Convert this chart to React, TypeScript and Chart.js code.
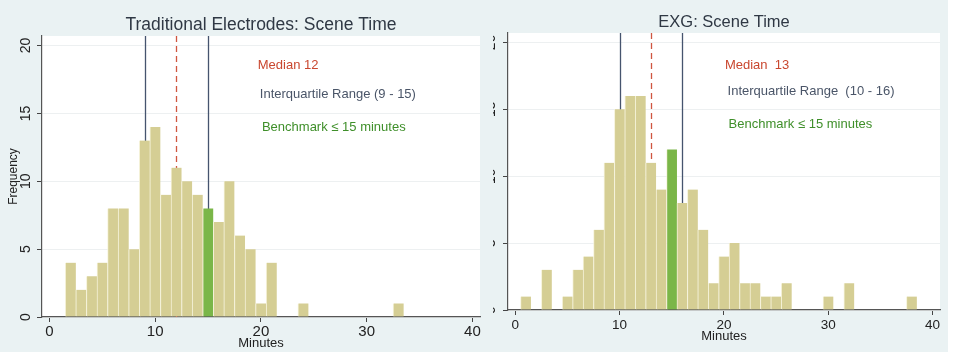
import React, { useEffect, useRef } from "react";
import { Chart, registerables } from "chart.js";

Chart.register(...registerables);

// ---- data ----
const leftBins = [2, 3, 4, 5, 6, 7, 8, 9, 10, 11, 12, 13, 14, 15, 16, 17, 18, 19, 20, 21, 24, 33];
const leftCounts = [4, 2, 3, 4, 8, 8, 5, 13, 14, 9, 11, 10, 9, 8, 7, 10, 6, 5, 1, 4, 1, 1];
const rightBins = [1, 3, 5, 6, 7, 8, 9, 10, 11, 12, 13, 14, 15, 16, 17, 18, 19, 20, 21, 22, 23, 24, 25, 26, 30, 32, 38];
const rightCounts = [1, 3, 1, 3, 4, 6, 11, 15, 16, 16, 11, 9, 12, 8, 9, 6, 2, 4, 5, 2, 2, 1, 1, 2, 1, 2, 1];
const xTicks = [0, 10, 20, 30, 40];
const yTicks = [0, 5, 10, 15, 20];
const benchmark = 15;
const leftMedian = 12;
const leftIQR = [9, 15];
const rightMedian = 13;
const rightIQR = [10, 16];
const leftTitle = "Traditional Electrodes: Scene Time";
const rightTitle = "EXG: Scene Time";
const leftNotes = ["Median 12", "Interquartile Range (9 - 15)", "Benchmark \u2264 15 minutes"];
const rightNotes = ["Median  13", "Interquartile Range  (10 - 16)", "Benchmark \u2264 15 minutes"];
const xTitle = "Minutes";
const yTitle = "Frequency";

// ---- styles / layout ----
const FONT = '"Liberation Sans", Arial, sans-serif';
const PANEL_BG = "#eaf2f3";
const BAR = "#d5ce94";
const GREEN = "#7ab648";
const IQR_COLOR = "#46546e";
const MED_COLOR = "#cf5540";
const NOTE_COLORS = ["#c9472f", "#4a5568", "#3f8f2a"];
const AXIS = "#555";

type PanelCfg = {
  left: number; w: number; h: number; padTop: number; padRight: number;
  yAxisW: number; xAxisH: number; bins: number[]; counts: number[];
  median: number; iqr: number[]; title: string; titleY: number; titleSize: number;
  notes: string[]; notePos: number[][]; yLabelX: number; showYTitle: boolean;
  tickSize: number; tickPad: number; xTitleY: number; noteSize: number;
};

const leftPanel: PanelCfg = {
  left: 0, w: 493, h: 352, padTop: 36, padRight: 13, yAxisW: 42, xAxisH: 35,
  bins: leftBins, counts: leftCounts, median: leftMedian, iqr: leftIQR,
  title: leftTitle, titleY: 25, titleSize: 17.5, notes: leftNotes,
  notePos: [[19.7, 18.5], [19.9, 16.4], [20.1, 14.0]], yLabelX: 26, showYTitle: true,
  tickSize: 15, tickPad: 1, xTitleY: 343, noteSize: 13,
};

const rightPanel: PanelCfg = {
  left: 493, w: 455, h: 352, padTop: 33, padRight: 8, yAxisW: 15, xAxisH: 42,
  bins: rightBins, counts: rightCounts, median: rightMedian, iqr: rightIQR,
  title: rightTitle, titleY: 22, titleSize: 16.5, notes: rightNotes,
  notePos: [[20.1, 18.25], [20.35, 16.3], [20.45, 13.9]], yLabelX: -1.5, showYTitle: false,
  tickSize: 13.5, tickPad: 2, xTitleY: 336, noteSize: 13,
};

function makeDecor(cfg: PanelCfg) {
  return {
    id: "decor",
    beforeDraw(chart: any) {
      const { ctx, chartArea: ca } = chart;
      ctx.save();
      ctx.fillStyle = "#ffffff";
      ctx.fillRect(ca.left, ca.top, ca.right - ca.left, ca.bottom - ca.top);
      ctx.restore();
    },
    beforeDatasetsDraw(chart: any) {
      const { ctx, chartArea: ca, scales } = chart;
      const x = scales.x;
      ctx.save();
      ctx.lineWidth = 1.3;
      ctx.strokeStyle = IQR_COLOR;
      for (const v of cfg.iqr) {
        const px = Math.round(x.getPixelForValue(v)) + 0.5;
        ctx.beginPath();
        ctx.moveTo(px, ca.top);
        ctx.lineTo(px, ca.bottom);
        ctx.stroke();
      }
      ctx.strokeStyle = MED_COLOR;
      ctx.setLineDash([6, 4]);
      const pm = Math.round(x.getPixelForValue(cfg.median)) + 0.5;
      ctx.beginPath();
      ctx.moveTo(pm, ca.top);
      ctx.lineTo(pm, ca.bottom);
      ctx.stroke();
      ctx.restore();
    },
    afterDraw(chart: any) {
      const { ctx, chartArea: ca, scales } = chart;
      const x = scales.x;
      const y = scales.y;
      ctx.save();
      // title
      ctx.fillStyle = "#2f3844";
      ctx.font = `${cfg.titleSize}px ${FONT}`;
      ctx.textAlign = "center";
      ctx.textBaseline = "middle";
      ctx.fillText(cfg.title, (ca.left + ca.right) / 2, cfg.titleY);
      // notes
      ctx.textAlign = "left";
      ctx.font = `${cfg.noteSize}px ${FONT}`;
      cfg.notes.forEach((t, i) => {
        ctx.fillStyle = NOTE_COLORS[i];
        ctx.fillText(t, x.getPixelForValue(cfg.notePos[i][0]), y.getPixelForValue(cfg.notePos[i][1]));
      });
      // y tick labels (rotated, Stata style)
      ctx.fillStyle = "#222";
      ctx.font = `14px ${FONT}`;
      ctx.textAlign = "center";
      for (const v of yTicks) {
        ctx.save();
        ctx.translate(cfg.yLabelX, y.getPixelForValue(v));
        ctx.rotate(-Math.PI / 2);
        ctx.fillText(String(v), 0, 0);
        ctx.restore();
      }
      // axis titles
      ctx.font = `13px ${FONT}`;
      ctx.fillStyle = "#222";
      ctx.fillText(xTitle, (ca.left + ca.right) / 2, cfg.xTitleY);
      if (cfg.showYTitle) {
        ctx.save();
        ctx.translate(14, (ca.top + ca.bottom) / 2);
        ctx.rotate(-Math.PI / 2);
        ctx.font = `12px ${FONT}`;
        ctx.fillText(yTitle, 0, 0);
        ctx.restore();
      }
      ctx.restore();
    },
  };
}

function Panel({ cfg }: { cfg: PanelCfg }) {
  const ref = useRef<HTMLCanvasElement>(null);
  useEffect(() => {
    const canvas = ref.current;
    if (!canvas) return;
    const chart = new Chart(canvas, {
      type: "bar",
      data: {
        datasets: [
          {
            data: cfg.bins.map((b, i) => ({ x: b, y: cfg.counts[i] })),
            backgroundColor: cfg.bins.map((b) => (b === benchmark ? GREEN : BAR)),
            borderColor: "rgba(245,242,215,0.9)",
            borderWidth: { left: 1, right: 0, top: 0, bottom: 0 },
            borderSkipped: false,
            barPercentage: 1,
            categoryPercentage: 1,
          } as any,
        ],
      },
      options: {
        animation: false,
        responsive: false,
        maintainAspectRatio: false,
        devicePixelRatio: 1,
        layout: { padding: { top: cfg.padTop, right: cfg.padRight, left: 0, bottom: 0 } },
        plugins: {
          legend: { display: false },
          tooltip: { enabled: false },
          title: { display: false },
        },
        scales: {
          x: {
            type: "linear",
            min: -0.7,
            max: 40.72,
            offset: false,
            grid: { offset: false, drawOnChartArea: false, drawTicks: true, tickLength: 5, tickColor: "#444" },
            border: { display: true, color: AXIS, width: 1.2 },
            ticks: {
              font: { family: FONT, size: cfg.tickSize },
              color: "#222",
              padding: cfg.tickPad,
              maxRotation: 0,
              autoSkip: false,
            },
            afterBuildTicks: (s: any) => {
              s.ticks = xTicks.map((v) => ({ value: v }));
            },
            afterFit: (s: any) => {
              s.height = cfg.xAxisH;
            },
          },
          y: {
            type: "linear",
            min: 0,
            max: 20.7,
            grid: { color: "#edf0f1", drawTicks: true, tickLength: 5, tickColor: "#444" },
            border: { display: true, color: AXIS, width: 1.2 },
            ticks: { display: false },
            afterBuildTicks: (s: any) => {
              s.ticks = yTicks.map((v) => ({ value: v }));
            },
            afterFit: (s: any) => {
              s.width = cfg.yAxisW;
            },
          },
        },
      } as any,
      plugins: [makeDecor(cfg)],
    });
    return () => chart.destroy();
  }, [cfg]);
  return (
    <canvas
      ref={ref}
      width={cfg.w}
      height={cfg.h}
      style={{ position: "absolute", left: cfg.left, top: 0, width: cfg.w, height: cfg.h, background: PANEL_BG }}
    />
  );
}

export default function App() {
  return (
    <div style={{ position: "absolute", left: 0, top: 0, width: 954, height: 357, background: "#fff", overflow: "hidden" }}>
      <Panel cfg={leftPanel} />
      <Panel cfg={rightPanel} />
    </div>
  );
}
